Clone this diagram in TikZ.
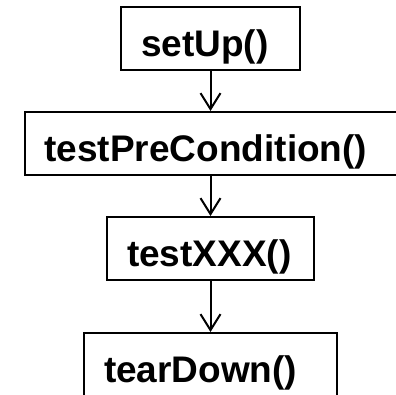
\documentclass[tikz,border=0pt]{standalone}
\usepackage{fontspec}
\setmainfont{Liberation Sans}
\usetikzlibrary{positioning,arrows.meta}
\begin{document}
\begin{tikzpicture}[
    x=1pt,y=-1pt,
    stage/.style={draw,line width=2pt,minimum height=63pt,
        inner xsep=20pt,inner ysep=0pt,align=left,
        text height=36.5pt,text depth=0pt,
        font=\fontsize{37}{44}\selectfont\bfseries},
    flow/.style={line width=2pt,-{Straight Barb[length=16pt,width=20pt]}}]
    \useasboundingbox (0,0) rectangle (396,394);
    \node[stage,text width=139pt] (setup) at (210.5,38.5) {setUp()};
    \node[stage,text width=332pt,below=40pt of setup] (precond) {testPreCondition()};
    \node[stage,text width=167pt,below=40pt of precond] (testxxx) {testXXX()};
    \node[stage,text width=213pt,below=51pt of testxxx] (teardown) {tearDown()};
    \draw[flow] (setup) -- (precond);
    \draw[flow] (precond) -- (testxxx);
    \draw[flow] (testxxx) -- (teardown);
\end{tikzpicture}
\end{document}
